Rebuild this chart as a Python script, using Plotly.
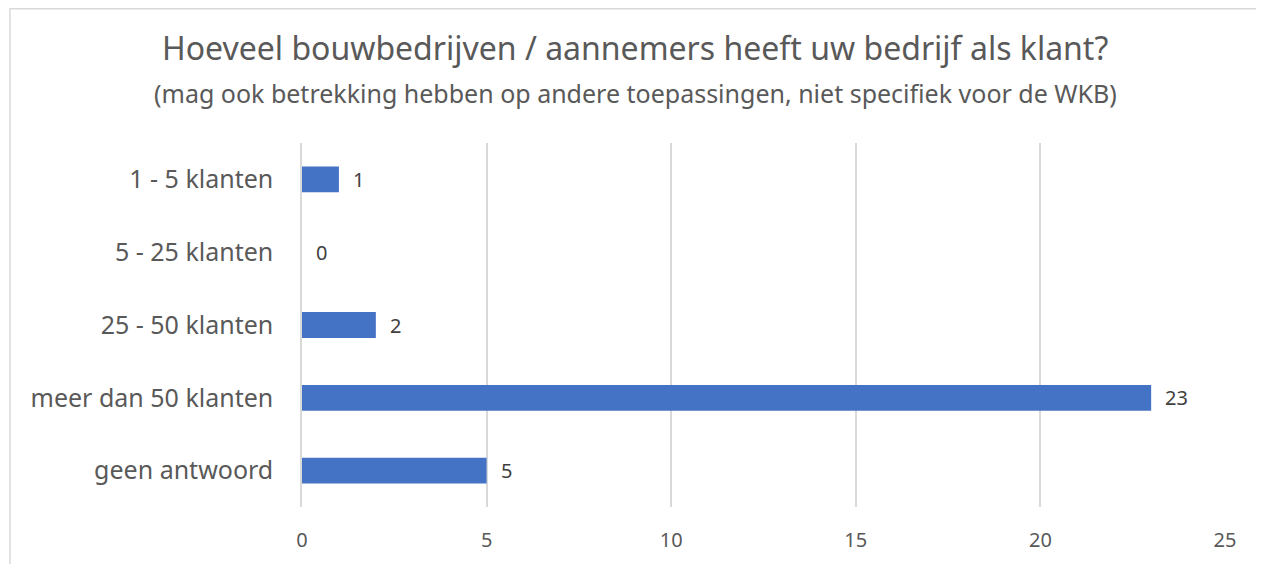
import plotly.graph_objects as go

categories = ["1 - 5 klanten", "5 - 25 klanten", "25 - 50 klanten", "meer dan 50 klanten", "geen antwoord"]
values = [1, 0, 2, 23, 5]
x_ticks = [0, 5, 10, 15, 20, 25]

title_main = "Hoeveel bouwbedrijven / aannemers heeft uw bedrijf als klant?"
title_sub = "(mag ook betrekking hebben op andere toepassingen, niet specifiek voor de WKB)"

FONT = "Noto Sans"

fig = go.Figure()
fig.add_trace(go.Bar(
    y=categories, x=values, orientation="h",
    marker=dict(color="#4472C4", line=dict(width=0)),
    hoverinfo="x+y",
))

for c, v in zip(categories, values):
    fig.add_annotation(x=v, y=c, text=str(v), showarrow=False, xanchor="left",
                       xshift=12, font=dict(family=FONT, size=20, color="#404040"))

fig.add_annotation(xref="paper", yref="paper", x=0.3608, y=1.261, text=title_main,
                   showarrow=False, xanchor="center", yanchor="middle",
                   font=dict(family=FONT, size=32, color="#595959"))
fig.add_annotation(xref="paper", yref="paper", x=0.3608, y=1.1375, text=title_sub,
                   showarrow=False, xanchor="center", yanchor="middle",
                   font=dict(family=FONT, size=25, color="#595959"))

fig.add_shape(type="rect", xref="paper", yref="paper",
              x0=-0.3164, x1=1.0412, y0=-0.2, y1=1.3688,
              line=dict(color="#D9D9D9", width=1.5), layer="below")

fig.update_layout(
    width=1256, height=556,
    margin=dict(l=294, r=39, t=135, b=57),
    paper_bgcolor="white", plot_bgcolor="white",
    showlegend=False,
    bargap=0.645,
    font=dict(family=FONT, color="#595959"),
    xaxis=dict(
        range=[0, 25], tickvals=x_ticks, showgrid=True, gridcolor="#D9D9D9", gridwidth=1.5,
        zeroline=False, showline=False, ticks="",
        tickfont=dict(family=FONT, size=20, color="#595959"),
        ticklabelstandoff=19,
    ),
    yaxis=dict(
        categoryorder="array", categoryarray=categories[::-1],
        showgrid=False, zeroline=False, showline=True, linecolor="#D9D9D9", linewidth=1.5,
        ticks="", tickfont=dict(family=FONT, size=25, color="#595959"),
        ticklabelstandoff=22,
    ),
)

fig.write_html("out.html")
